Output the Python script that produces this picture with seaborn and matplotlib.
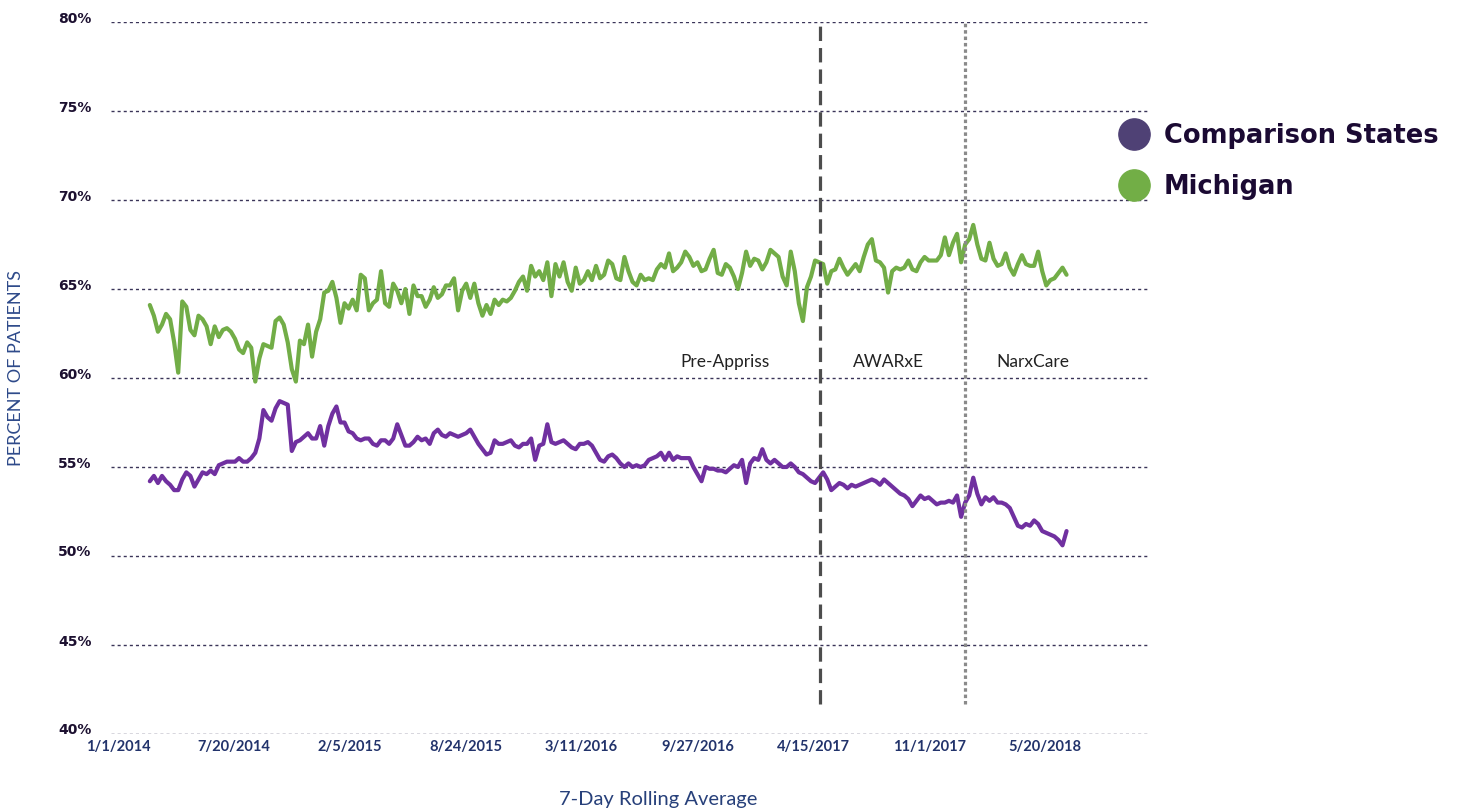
import matplotlib
matplotlib.use("Agg")
import matplotlib.pyplot as plt
import numpy as np
import pandas as pd
import seaborn as sns
from matplotlib.lines import Line2D
from matplotlib.transforms import ScaledTranslation

# ---------------- data (7-day rolling average, sampled weekly) ----------------
start_date = "2014-02-25"
step_days = 7

michigan = [
    64.1, 63.5, 62.6, 63.0, 63.6, 63.3, 62.0, 60.3, 64.3, 64.0,
    62.7, 62.4, 63.5, 63.3, 62.9, 61.9, 62.9, 62.3, 62.7, 62.8,
    62.6, 62.2, 61.6, 61.4, 62.0, 61.7, 59.8, 61.1, 61.9, 61.8,
    61.7, 63.2, 63.4, 63.0, 62.0, 60.5, 59.8, 62.1, 61.9, 63.0,
    61.2, 62.6, 63.3, 64.8, 64.9, 65.4, 64.5, 63.1, 64.2, 63.9,
    64.4, 63.8, 65.8, 65.6, 63.8, 64.2, 64.4, 66.0, 64.2, 64.0,
    65.3, 64.9, 64.2, 65.0, 63.6, 65.2, 64.6, 64.6, 64.0, 64.4,
    65.1, 64.5, 64.7, 65.2, 65.2, 65.6, 63.8, 64.9, 65.3, 64.5,
    65.3, 64.2, 63.5, 64.1, 63.6, 64.4, 64.1, 64.4, 64.3, 64.5,
    64.9, 65.4, 65.7, 64.9, 66.3, 65.7, 66.0, 65.5, 66.5, 64.6,
    66.4, 65.7, 66.5, 65.4, 64.9, 66.2, 65.3, 65.5, 66.0, 65.5,
    66.3, 65.6, 65.8, 66.6, 66.4, 65.6, 65.5, 66.8, 66.0, 65.4,
    65.2, 65.8, 65.5, 65.6, 65.5, 66.1, 66.4, 66.2, 67.0, 66.0,
    66.2, 66.5, 67.1, 66.8, 66.3, 66.5, 66.0, 66.1, 66.7, 67.2,
    65.9, 65.8, 66.4, 66.2, 65.7, 65.0, 65.9, 67.1, 66.3, 66.7,
    66.6, 66.1, 66.5, 67.2, 67.0, 66.8, 65.7, 65.2, 67.1, 66.0,
    64.2, 63.2, 65.1, 65.7, 66.6, 66.5, 66.4, 65.3, 66.0, 66.1,
    66.7, 66.2, 65.8, 66.1, 66.4, 66.0, 66.8, 67.5, 67.8, 66.6,
    66.5, 66.2, 64.8, 66.0, 66.2, 66.1, 66.2, 66.6, 66.1, 66.0,
    66.5, 66.8, 66.6, 66.6, 66.6, 66.9, 67.9, 66.9, 67.6, 68.1,
    66.5, 67.5, 67.8, 68.6, 67.5, 66.7, 66.6, 67.6, 66.7, 66.3,
    66.4, 67.0, 66.2, 65.8, 66.4, 66.9, 66.4, 66.3, 66.3, 67.1,
    66.0, 65.2, 65.5, 65.6, 65.9, 66.2, 65.8,
]

comparison = [
    54.2, 54.5, 54.1, 54.5, 54.2, 54.0, 53.7, 53.7, 54.3, 54.7,
    54.5, 53.9, 54.3, 54.7, 54.6, 54.8, 54.6, 55.1, 55.2, 55.3,
    55.3, 55.3, 55.5, 55.3, 55.3, 55.5, 55.8, 56.6, 58.2, 57.8,
    57.6, 58.3, 58.7, 58.6, 58.5, 55.9, 56.4, 56.5, 56.7, 56.9,
    56.6, 56.6, 57.3, 56.2, 57.3, 58.0, 58.4, 57.5, 57.5, 57.0,
    56.9, 56.6, 56.5, 56.6, 56.6, 56.3, 56.2, 56.5, 56.5, 56.3,
    56.6, 57.4, 56.8, 56.2, 56.2, 56.4, 56.7, 56.5, 56.6, 56.3,
    56.9, 57.1, 56.8, 56.7, 56.9, 56.8, 56.7, 56.8, 56.9, 57.1,
    56.7, 56.3, 56.0, 55.7, 55.8, 56.5, 56.3, 56.3, 56.4, 56.5,
    56.2, 56.1, 56.3, 56.3, 56.6, 55.4, 56.2, 56.3, 57.4, 56.4,
    56.3, 56.4, 56.5, 56.3, 56.1, 56.0, 56.3, 56.3, 56.4, 56.2,
    55.8, 55.4, 55.3, 55.6, 55.7, 55.5, 55.2, 55.0, 55.2, 55.0,
    55.1, 55.0, 55.1, 55.4, 55.5, 55.6, 55.8, 55.4, 55.8, 55.4,
    55.6, 55.5, 55.5, 55.5, 55.0, 54.6, 54.2, 55.0, 54.9, 54.9,
    54.8, 54.8, 54.7, 54.9, 55.1, 55.0, 55.4, 54.1, 55.2, 55.5,
    55.4, 56.0, 55.4, 55.2, 55.4, 55.2, 55.0, 55.0, 55.2, 55.0,
    54.7, 54.6, 54.4, 54.2, 54.1, 54.4, 54.7, 54.3, 53.7, 53.9,
    54.1, 54.0, 53.8, 54.0, 53.9, 54.0, 54.1, 54.2, 54.3, 54.2,
    54.0, 54.3, 54.1, 53.9, 53.7, 53.5, 53.4, 53.2, 52.8, 53.1,
    53.4, 53.2, 53.3, 53.1, 52.9, 53.0, 53.0, 53.1, 53.0, 53.4,
    52.2, 53.0, 53.4, 54.4, 53.5, 52.9, 53.3, 53.1, 53.3, 53.0,
    53.0, 52.9, 52.7, 52.2, 51.7, 51.6, 51.8, 51.7, 52.0, 51.8,
    51.4, 51.3, 51.2, 51.1, 50.9, 50.6, 51.4,
]

series_names = ["Comparison States", "Michigan"]
line_colors = ["#7030a0", "#72ad47"]
legend_colors = ["#4f4175", "#72ae46"]

tick_dates = ["2014-01-01", "2014-07-20", "2015-02-05", "2015-08-24", "2016-03-11",
              "2016-09-27", "2017-04-15", "2017-11-01", "2018-05-20"]
tick_labels = ["1/1/2014", "7/20/2014", "2/5/2015", "8/24/2015", "3/11/2016",
               "9/27/2016", "4/15/2017", "11/1/2017", "5/20/2018"]
y_ticks = [40, 45, 50, 55, 60, 65, 70, 75, 80]

phase_line_dates = ["2017-04-27", "2018-01-01"]
phase_names = ["Pre-Appriss", "AWARxE", "NarxCare"]
phase_label_dates = ["2016-11-14", "2017-08-22", "2018-04-29"]
phase_label_y = 60.9
phase_line_bottom = 41.7

# ---------------- build frame ----------------
dates = pd.date_range(start_date, periods=len(michigan), freq=f"{step_days}D")
df = pd.concat([
    pd.DataFrame({"date": dates, "value": comparison, "series": series_names[0]}),
    pd.DataFrame({"date": dates, "value": michigan, "series": series_names[1]}),
])

sns.set_theme(style="white")
plt.rcParams["font.family"] = ["Lato", "DejaVu Sans"]

fig = plt.figure(figsize=(14.62, 8.10), dpi=100)
ax = fig.add_axes([111 / 1462, 76 / 810, (1150 - 111) / 1462, (734 - 22) / 810])

# gridlines
for yv in y_ticks:
    ax.axhline(yv, color="#3a3458", lw=1.0, ls=(0, (2.2, 2.2)), zorder=0)

sns.lineplot(data=df, x="date", y="value", hue="series", hue_order=series_names,
             palette=dict(zip(series_names, line_colors)), linewidth=3.0,
             legend=False, ax=ax, zorder=3)

# phase boundary lines
ax.vlines(pd.Timestamp(phase_line_dates[0]), phase_line_bottom, 80, colors="#4d4d4d",
          linestyles=(0, (4.5, 2.2)), lw=2.3, zorder=4)
ax.vlines(pd.Timestamp(phase_line_dates[1]), phase_line_bottom, 80, colors="#8a8a8a",
          linestyles=(0, (1.1, 0.9)), lw=2.3, zorder=4)

for name, d in zip(phase_names, phase_label_dates):
    ax.text(pd.Timestamp(d), phase_label_y, name, ha="center", va="center",
            fontsize=12.5, color="#222222", family=["Lato", "DejaVu Sans"])

ax.set_xlim(pd.Timestamp("2013-12-20"), pd.Timestamp("2018-11-17"))
ax.set_ylim(40, 80)
ax.set_xticks([pd.Timestamp(d) for d in tick_dates])
ax.set_xticklabels(tick_labels)
ax.set_yticks(y_ticks)
ax.set_yticklabels([f"{v}%" for v in y_ticks])
ax.tick_params(axis="x", length=0, pad=4, labelsize=10.5, labelcolor="#22336b")
ax.tick_params(axis="y", length=0, pad=14, labelsize=10, labelcolor="#1c1030")
for lab in ax.get_xticklabels():
    lab.set_fontweight("bold")
for lab in ax.get_yticklabels():
    lab.set_fontweight("bold")
    lab.set_family(["DejaVu Sans"])
    lab.set_transform(lab.get_transform() + ScaledTranslation(0, 5 / 100, fig.dpi_scale_trans))
for s in ax.spines.values():
    s.set_visible(False)
ax.grid(False)
ax.set_xlabel("")
ax.set_ylabel("")

fig.text(658 / 1462, 1 - 800 / 810, "7-Day Rolling Average", ha="center", va="center",
         fontsize=14.5, color="#27407a")
fig.text(16 / 1462, 1 - 368 / 810, "PERCENT OF PATIENTS", ha="center", va="center",
         rotation=90, fontsize=13, color="#2e4a8a")

handles = [Line2D([], [], marker="o", linestyle="", markersize=22.5,
                  markerfacecolor=c, markeredgecolor=c) for c in legend_colors]
fig.legend(handles, series_names, loc="upper left", bbox_to_anchor=(1119 / 1462, 1 - 123 / 810),
           frameon=False, borderpad=0, borderaxespad=0, handlelength=1.2,
           handletextpad=0.55, labelspacing=0.97,
           prop={"family": ["DejaVu Sans"], "weight": "bold", "size": 18.5},
           labelcolor="#1b0a33")

fig.savefig("out.png", dpi=100)
